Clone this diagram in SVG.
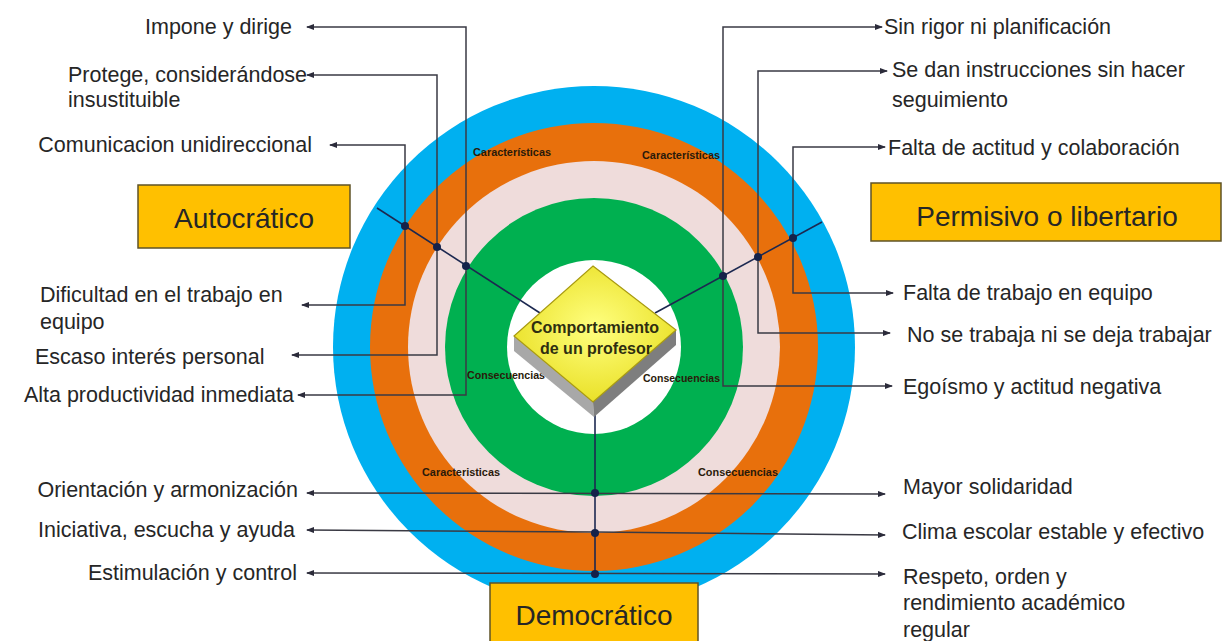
<svg xmlns="http://www.w3.org/2000/svg" width="1225" height="641" viewBox="0 0 1225 641">
<defs>
<style>
.t{font-family:"Liberation Sans",Arial,sans-serif;font-size:21.5px;fill:#262626}
.e{text-anchor:end}
.box{fill:#FFC000;stroke:#5f5327;stroke-width:1.5}
.bt{font-family:"Liberation Sans",Arial,sans-serif;font-size:28px;fill:#262626;text-anchor:middle}
.sm{font-family:"Liberation Sans",Arial,sans-serif;font-size:10px;font-weight:bold;fill:#2a1a0a}
.con{fill:none;stroke:#3a3a44;stroke-width:1.5;marker-start:url(#arr);marker-end:url(#arr)}
.ax{fill:none;stroke:#1c2850;stroke-width:1.6}
.dot{fill:#14224a}
</style>
<marker id="arr" viewBox="0 0 8 6" refX="7" refY="3" markerWidth="8" markerHeight="6" markerUnits="userSpaceOnUse" orient="auto-start-reverse"><path d="M0,0 L8,3 L0,6 z" fill="#2b2b3a"/></marker>
<radialGradient id="yg" cx="50%" cy="45%" r="60%"><stop offset="0" stop-color="#FFFF80"/><stop offset="1" stop-color="#E8DE20"/></radialGradient>
</defs>
<rect width="1225" height="641" fill="#ffffff"/>
<g id="rings">
<circle cx="594" cy="347" r="261" fill="#00B0F0"/>
<circle cx="594" cy="347" r="224" fill="#E8700C"/>
<circle cx="594" cy="347" r="186" fill="#EFDCDB"/>
<circle cx="594" cy="347" r="149" fill="#00B050"/>
<circle cx="594" cy="347" r="87" fill="#ffffff"/>
</g>
<g id="ring-labels">
<text class="sm" x="473" y="156" textLength="78" lengthAdjust="spacingAndGlyphs">Características</text>
<text class="sm" x="642" y="159" textLength="78" lengthAdjust="spacingAndGlyphs">Características</text>
<text class="sm" x="467" y="379" textLength="78" lengthAdjust="spacingAndGlyphs">Consecuencias</text>
<text class="sm" x="643" y="382" textLength="77" lengthAdjust="spacingAndGlyphs">Consecuencias</text>
<text class="sm" x="422" y="476" textLength="78" lengthAdjust="spacingAndGlyphs">Caracteristicas</text>
<text class="sm" x="698" y="476" textLength="80" lengthAdjust="spacingAndGlyphs">Consecuencias</text>
</g>
<g id="connectors">
<path class="con" d="M307,27 H466 V395 H298"/>
<path class="con" d="M307,75 H437 V355 H292"/>
<path class="con" d="M330,145 H405 V305 H302"/>
<path class="con" d="M882,27 H723 V386 H892"/>
<path class="con" d="M887,71 H758 V333 H890"/>
<path class="con" d="M885,147 H793 V293 H893"/>
<path class="con" d="M307,493 L885,494"/>
<path class="con" d="M307,530 L596,532 L885,535"/>
<path class="con" d="M307,573 L885,574"/>
<path class="ax" d="M377,208 L540,313"/>
<path class="ax" d="M822,222 L655,313"/>
<path class="ax" d="M595,412 V575"/>
<circle class="dot" cx="405" cy="226" r="4"/>
<circle class="dot" cx="437" cy="247" r="4"/>
<circle class="dot" cx="466" cy="266" r="4"/>
<circle class="dot" cx="793" cy="238" r="4"/>
<circle class="dot" cx="758" cy="257" r="4"/>
<circle class="dot" cx="723" cy="276" r="4"/>
<circle class="dot" cx="595" cy="493" r="4"/>
<circle class="dot" cx="595" cy="533" r="4"/>
<circle class="dot" cx="595" cy="574" r="4"/>
</g>
<g id="center-node">
<polygon points="514,336 593,402 594,417 514,351" fill="#A8A8A8"/>
<polygon points="593,402 676,330 676,345 594,417" fill="#7E7E7E"/>
<polygon points="593,266 676,330 593,402 514,336" fill="url(#yg)" stroke="#A89A10" stroke-width="1.2"/>
<text x="595" y="333" text-anchor="middle" font-family="Liberation Sans, Arial, sans-serif" font-size="16" font-weight="bold" fill="#2e2e10">Comportamiento</text>
<text x="596" y="354" text-anchor="middle" font-family="Liberation Sans, Arial, sans-serif" font-size="16" font-weight="bold" fill="#2e2e10">de un profesor</text>
</g>
<g id="autocratico">
<rect class="box" x="138" y="185" width="212" height="63"/>
<text class="bt" x="244" y="228">Autocrático</text>
</g>
<g id="permisivo">
<rect class="box" x="871" y="183" width="350" height="58"/>
<text class="bt" x="1047" y="226">Permisivo o libertario</text>
</g>
<g id="democratico">
<rect class="box" x="490" y="583" width="208" height="64"/>
<text class="bt" x="594" y="625">Democrático</text>
</g>
<g id="impone"><text class="t e" x="292" y="34">Impone y dirige</text></g>
<g id="protege"><text class="t" x="68" y="82">Protege, considerándose</text><text class="t" x="68" y="107">insustituible</text></g>
<g id="comunicacion"><text class="t e" x="312" y="152">Comunicacion unidireccional</text></g>
<g id="dificultad"><text class="t" x="40" y="302">Dificultad en el trabajo en</text><text class="t" x="40" y="329">equipo</text></g>
<g id="escaso"><text class="t" x="35" y="364">Escaso interés personal</text></g>
<g id="alta"><text class="t e" x="294" y="402">Alta productividad inmediata</text></g>
<g id="orientacion"><text class="t e" x="298" y="497">Orientación y armonización</text></g>
<g id="iniciativa"><text class="t e" x="295" y="537">Iniciativa, escucha y ayuda</text></g>
<g id="estimulacion"><text class="t e" x="297" y="580">Estimulación y control</text></g>
<g id="sin-rigor"><text class="t" x="884" y="34">Sin rigor ni planificación</text></g>
<g id="se-dan"><text class="t" x="892" y="77">Se dan instrucciones sin hacer</text><text class="t" x="892" y="107">seguimiento</text></g>
<g id="falta-actitud"><text class="t" x="888" y="155">Falta de actitud y colaboración</text></g>
<g id="falta-trabajo"><text class="t" x="903" y="300">Falta de trabajo en equipo</text></g>
<g id="no-se-trabaja"><text class="t" x="907" y="342">No se trabaja ni se deja trabajar</text></g>
<g id="egoismo"><text class="t" x="903" y="394">Egoísmo y actitud negativa</text></g>
<g id="mayor"><text class="t" x="903" y="494">Mayor solidaridad</text></g>
<g id="clima"><text class="t" x="902" y="539">Clima escolar estable y efectivo</text></g>
<g id="respeto"><text class="t" x="903" y="584">Respeto, orden y</text><text class="t" x="903" y="610">rendimiento académico</text><text class="t" x="903" y="637">regular</text></g>
</svg>
